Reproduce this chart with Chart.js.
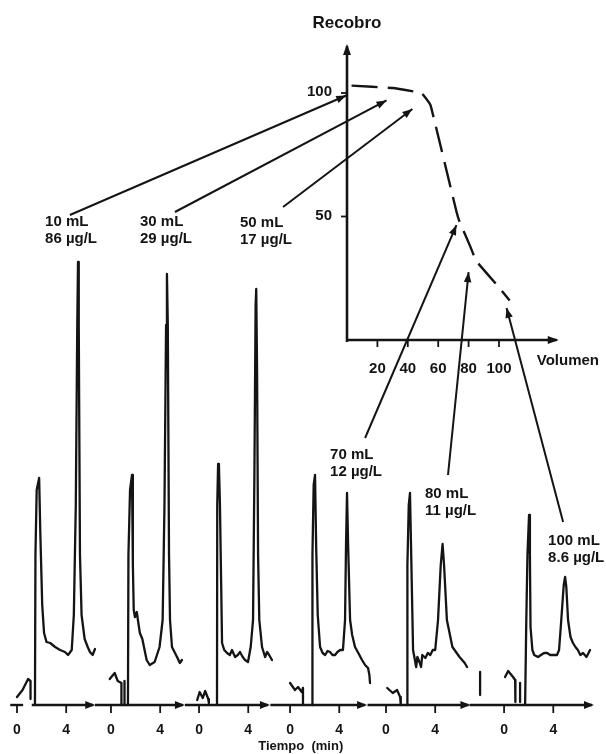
<!DOCTYPE html>
<html><head><meta charset="utf-8">
<script src="https://cdn.jsdelivr.net/npm/chart.js@4/dist/chart.umd.min.js"></script>
<style>html,body{margin:0;padding:0;background:#fff}canvas{display:block}</style>
</head><body>
<canvas id="c" width="606" height="754"></canvas>
<script>
// ---------------- DATA ----------------
const volumes_mL = [10, 30, 50, 70, 80, 100];
const conc_ugL = ["86", "29", "17", "12", "11", "8.6"];
const timeTicks = [0, 4];
const volumeTicks = [20, 40, 60, 80, 100];
const recoveryTicks = [50, 100];

// chromatograms: time (min) and detector signal (arb. units); null = pen lifted
const time10 = [0, 0.45, 0.9, 1.1, 1.1, null, 1.46, 1.5, 1.6, 1.8, 1.9, 2.05, 2.2, 2.4, 2.7, 3.1, 3.5, 3.9, 4.15, 4.45, 4.62, 4.78, 4.9, 4.96, 5.02, 5.12, 5.25, 5.5, 5.75, 5.93, 6.15, 6.34];
const signal10 = [8, 15, 26, 24, 6, null, 0, 150, 215, 227, 170, 100, 72, 63, 62, 58, 55, 53, 50, 55, 90, 200, 380, 443, 380, 150, 90, 66, 58, 53, 50, 56];

const time30 = [-0.1, 0.3, 0.55, 0.85, 0.85, null, 1.1, 1.1, null, 1.38, 1.42, 1.55, 1.71, 1.78, 1.85, 1.95, 2.1, 2.25, 2.35, 2.55, 2.9, 3.15, 3.55, 3.95, 4.2, 4.35, 4.48, 4.55, 4.62, 4.72, 4.8, 4.96, 5.37, 5.6, 5.77];
const signal30 = [26, 32, 24, 22, 0, null, 0, 24, null, 0, 150, 215, 230, 140, 95, 88, 93, 80, 72, 66, 45, 40, 43, 58, 85, 200, 380, 431, 380, 150, 85, 58, 48, 42, 45];

const time50 = [-0.15, 0.05, 0.3, 0.5, 0.75, 0.8, null, 1.46, 1.48, 1.55, 1.62, 1.7, 1.8, 1.87, 2.05, 2.28, 2.5, 2.68, 2.93, 3.15, 3.33, 3.55, 3.74, 3.98, 4.2, 4.39, 4.5, 4.6, 4.65, 4.72, 4.8, 4.9, 5.12, 5.37, 5.53, 5.7, 5.93];
const signal50 = [5, 13, 7, 14, 6, 2, null, 0, 200, 241, 238, 200, 120, 62, 55, 52, 50, 55, 48, 50, 53, 48, 45, 43, 58, 85, 230, 400, 416, 330, 150, 85, 58, 48, 53, 50, 45];

const time70 = [0, 0.4, 0.65, 0.95, 1.05, 1.05, null, 1.79, 1.82, 1.92, 2.03, 2.12, 2.25, 2.44, 2.65, 2.85, 3.05, 3.25, 3.45, 3.66, 3.85, 4.07, 4.3, 4.47, 4.55, 4.63, 4.72, 4.88, 5.05, 5.28, 5.55, 5.85, 6.1, 6.34, 6.45, 6.5];
const signal70 = [22, 15, 18, 13, 17, 0, null, 0, 150, 220, 230, 160, 90, 58, 52, 50, 54, 53, 50, 50, 53, 55, 55, 85, 160, 212, 160, 85, 70, 58, 52, 45, 40, 37, 30, 22];

const time80 = [0.1, 0.55, 0.9, 1.15, 1.2, null, 1.71, 1.74, 1.85, 1.95, 2.05, 2.2, 2.35, 2.45, 2.55, 2.75, 2.85, 2.95, 3.2, 3.4, 3.6, 3.8, 4.0, 4.23, 4.45, 4.6, 4.72, 4.95, 5.4, 5.98, 6.4, 6.59];
const signal80 = [17, 12, 15, 8, 0, null, 0, 140, 200, 212, 150, 55, 45, 38, 48, 42, 38, 50, 47, 52, 50, 55, 55, 85, 140, 161, 140, 85, 58, 48, 42, 38];

const time100 = [-1.95, -1.95, null, 0.08, 0.33, 0.73, 0.9, 0.92, null, 1.3, 1.3, null, 1.71, 1.8, 1.9, 2.03, 2.1, 2.15, 2.3, 2.45, 2.76, 3.0, 3.25, 3.5, 3.75, 4.0, 4.3, 4.47, 4.65, 4.85, 4.96, 5.06, 5.2, 5.4, 5.6, 5.8, 6.0, 6.2, 6.42, 6.7, 6.99];
const signal100 = [10, 33, null, 28, 34, 28, 25, 3, null, 3, 22, null, 0, 80, 150, 190, 150, 78, 55, 50, 48, 50, 52, 52, 50, 50, 50, 55, 85, 120, 128, 118, 85, 68, 62, 58, 55, 50, 52, 48, 55];

// inset: recovery (%) vs sample volume (mL)
const curveVolume = [3, 30, 49, 55, 72, 74, 81, 85, 99, 107];
const curveRecovery = [103, 102, 100, 95, 52, 48, 38, 32, 22, 16];
// where each chromatogram's arrow points on the inset
const arrowVolume = [-0.5, 26, 43, 72, 80, 105];
const arrowRecovery = [99, 97, 93.5, 46.5, 27.5, 13];

// ---------------- LAYOUT (not data) ----------------
const layout = {
  panelOffset: [0, 7.64, 14.8, 22.2, 30.0, 39.6],
  axisSegments: [[[-0.55, 0.5], [1.2, 6.2]], [[-1.3, 5.85]], [[-1.15, 5.6]], [[-1.6, 6.1]], [[-1.5, 6.7]], [[-2.8, 7.15]]],
  labelAt: [[2.28, 483], [2.36, 483], [3.33, 482], [3.25, 250], [3.17, 211], [3.58, 164]],
  arrowFrom: [[4.3, 490], [5.2, 493], [6.83, 498], [6.1, 267], [5.04, 230], [4.8, 183]],
  insetAxisTop: 119, insetAxisRight: 138
};

const traces = [[time10, signal10], [time30, signal30], [time50, signal50], [time70, signal70], [time80, signal80], [time100, signal100]];

function buildTrace(i) {
  const [ts, ss] = traces[i];
  const off = layout.panelOffset[i];
  const pts = [];
  for (let k = 0; k < ts.length; k++) {
    if (ts[k] === null) { pts.push({ x: off + ts[k - 1], y: null }); }
    else pts.push({ x: off + ts[k], y: ss[k] });
  }
  return pts;
}

const INK = '#141414';
const FONT = '"Liberation Sans", Arial, Helvetica, sans-serif';

const datasets = traces.map((_, i) => ({
  data: buildTrace(i), borderColor: INK, borderWidth: 2.3, pointRadius: 0, tension: 0,
  spanGaps: false, xAxisID: 'x', yAxisID: 'y', borderJoinStyle: 'round', borderCapStyle: 'round'
}));
datasets.push({
  data: curveVolume.map((v, k) => ({ x: v, y: curveRecovery[k] })),
  borderColor: INK, borderWidth: 2.4, borderDash: [26, 10], pointRadius: 0, tension: 0.05,
  xAxisID: 'x2', yAxisID: 'y2'
});

function head(ctx, x1, y1, x2, y2, len, half) {
  const a = Math.atan2(y2 - y1, x2 - x1);
  ctx.beginPath();
  ctx.moveTo(x2, y2);
  ctx.lineTo(x2 - len * Math.cos(a) + half * Math.sin(a), y2 - len * Math.sin(a) - half * Math.cos(a));
  ctx.lineTo(x2 - len * Math.cos(a) - half * Math.sin(a), y2 - len * Math.sin(a) + half * Math.cos(a));
  ctx.closePath(); ctx.fill();
}
function seg(ctx, x1, y1, x2, y2, w) {
  ctx.lineWidth = w; ctx.beginPath(); ctx.moveTo(x1, y1); ctx.lineTo(x2, y2); ctx.stroke();
}

const deco = {
  id: 'deco',
  afterDatasetsDraw(chart) {
    const { ctx } = chart;
    const sx = chart.scales.x, sy = chart.scales.y, vx = chart.scales.x2, ry = chart.scales.y2;
    const X = v => sx.getPixelForValue(v), Y = v => sy.getPixelForValue(v);
    const VX = v => vx.getPixelForValue(v), RY = v => ry.getPixelForValue(v);
    ctx.save();
    ctx.strokeStyle = INK; ctx.fillStyle = INK; ctx.lineCap = 'butt';

    // time axes of the six chromatograms
    const y0 = Y(0);
    layout.axisSegments.forEach((segs, i) => {
      const off = layout.panelOffset[i];
      segs.forEach(([a, b], j) => {
        seg(ctx, X(off + a), y0, X(off + b), y0, 2.4);
        if (j === segs.length - 1) head(ctx, X(off + a), y0, X(off + b) + 2, y0, 10, 4);
      });
      ctx.font = 'bold 14px ' + FONT; ctx.textAlign = 'center'; ctx.textBaseline = 'middle';
      timeTicks.forEach(t => {
        seg(ctx, X(off + t), y0, X(off + t), y0 + 8, 1.8);
        ctx.fillText(String(t), X(off + t), y0 + 25);
      });
    });
    ctx.font = 'bold 13px ' + FONT;
    ctx.fillText('Tiempo  (min)', (X(layout.panelOffset[2] + 4) + X(layout.panelOffset[3] + 4)) / 2 + 7, y0 + 41);

    // inset axes
    const ox = VX(0), oy = RY(0);
    seg(ctx, ox, oy + 2, ox, RY(layout.insetAxisTop), 2.6);
    head(ctx, ox, oy, ox, RY(layout.insetAxisTop) - 2, 11, 4);
    seg(ctx, ox, oy, VX(layout.insetAxisRight), oy, 2.6);
    head(ctx, ox, oy, VX(layout.insetAxisRight) + 2, oy, 11, 4);
    ctx.font = 'bold 15px ' + FONT;
    volumeTicks.forEach(v => {
      seg(ctx, VX(v), oy, VX(v), oy + 7, 1.8);
      ctx.textAlign = 'center'; ctx.fillText(String(v), VX(v), oy + 29);
    });
    recoveryTicks.forEach(r => {
      seg(ctx, ox - 6, RY(r), ox, RY(r), 1.8);
      ctx.textAlign = 'right'; ctx.fillText(String(r), ox - 15, RY(r) - 1);
    });
    ctx.textAlign = 'left';
    ctx.fillText('Volumen', VX(layout.insetAxisRight) - 20, oy + 21);
    ctx.font = 'bold 17px ' + FONT; ctx.textAlign = 'center';
    ctx.fillText('Recobro', ox, RY(layout.insetAxisTop) - 23);

    // labels and arrows
    ctx.font = 'bold 15px ' + FONT; ctx.textAlign = 'left';
    volumes_mL.forEach((vol, i) => {
      const off = layout.panelOffset[i];
      const [lt, ls] = layout.labelAt[i];
      ctx.fillText(vol + ' mL', X(off + lt), Y(ls));
      ctx.fillText(conc_ugL[i] + ' \u00b5g/L', X(off + lt), Y(ls) + 17);
      const [at, as] = layout.arrowFrom[i];
      const x1 = X(off + at), y1 = Y(as), x2 = VX(arrowVolume[i]), y2 = RY(arrowRecovery[i]);
      seg(ctx, x1, y1, x2, y2, 2);
      head(ctx, x1, y1, x2, y2, 10, 3.8);
    });
    ctx.restore();
  }
};

new Chart(document.getElementById('c'), {
  type: 'line',
  data: { datasets },
  options: {
    responsive: false, animation: false, devicePixelRatio: 1,
    layout: { padding: 0 },
    plugins: { legend: { display: false }, tooltip: { enabled: false } },
    scales: {
      x: { type: 'linear', min: -1.382, max: 47.886, display: false },
      y: { type: 'linear', min: -49, max: 705, display: false },
      x2: { type: 'linear', position: 'top', min: -228.3, max: 170.4, display: false },
      y2: { type: 'linear', position: 'right', min: -167.6, max: 137.65, display: false }
    }
  },
  plugins: [deco]
});
</script>
</body></html>
